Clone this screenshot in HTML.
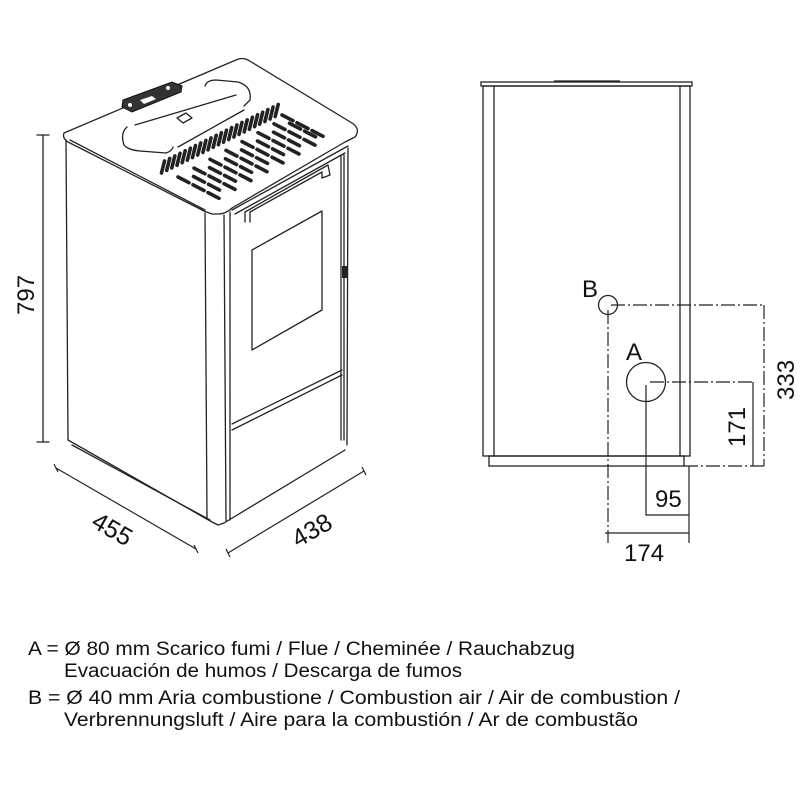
<!DOCTYPE html>
<html><head><meta charset="utf-8"><style>
html,body{margin:0;padding:0;background:#fff;}
svg{display:block;}
text{font-family:"Liberation Sans Narrow","Liberation Sans",sans-serif;fill:#111;}
</style></head><body>
<svg width="800" height="800" viewBox="0 0 800 800" xmlns="http://www.w3.org/2000/svg">
<g fill="none" stroke="#222" stroke-width="1.3" stroke-linejoin="round" stroke-linecap="round">
<line x1="43" y1="135" x2="43" y2="442"/>
<line x1="37" y1="135" x2="49" y2="135"/>
<line x1="37" y1="442" x2="49" y2="442"/>
<path d="M64 133 L236 60 Q242 57 248 60 L352 123 Q361 129 355 137 L345 142 L232 208 Q226 214 218 214 L212 214 L204 211 L68 142 Q62 138 64 133 Z"/>
<line x1="70" y1="140" x2="205" y2="210"/>
<line x1="66" y1="140" x2="68" y2="440"/>
<path d="M68 440 L212 522 L218 525 L224 523 L345 450"/>
<line x1="72" y1="445" x2="210" y2="520"/>
<line x1="205" y1="213" x2="207" y2="518"/>
<line x1="224" y1="215" x2="226" y2="521"/>
<line x1="230" y1="212" x2="230" y2="520"/>
<line x1="232" y1="210" x2="348" y2="146"/>
<line x1="235" y1="214" x2="345" y2="153"/>
<line x1="348" y1="148" x2="347" y2="445"/>
<line x1="341" y1="155" x2="341" y2="440"/>
<line x1="344" y1="155" x2="344" y2="440"/>
<path d="M245 222 L245 212 L328 165 L330 175 L322 178 L322 172 L250 212 L250 222"/>
<path d="M252 250 L322 211 L322 310 L252 350 Z"/>
<line x1="232" y1="424" x2="342" y2="370"/>
<line x1="232" y1="430" x2="342" y2="375"/>
<path d="M205 86 Q207 80 216 80 L238 82 Q252 86 250 100 L244 106"/>
<path d="M127 127 Q120 133 124 145 Q128 150 140 151 L166 153 Q172 151 173 147"/>
<line x1="135" y1="125" x2="236" y2="95"/>
<line x1="178" y1="147" x2="244" y2="110"/>
<polygon points="177,118 186,113 192,118 183,123"/>
</g>
<polygon points="123,100 172,82 182,86 181,92 132,112 122,107" fill="#333" stroke="#111" stroke-width="1"/>
<polygon points="140,100 152,96 156,99 144,104" fill="#fff"/>
<circle cx="130" cy="105" r="2" fill="#fff"/>
<circle cx="168" cy="88" r="2" fill="#fff"/>
<rect x="342" y="266" width="5" height="12" fill="#222"/>
<g fill="none" stroke-linecap="round">
<path stroke="#222" stroke-width="3.6" d="M161.5 173 l3 -12 M166.7 170.4 l3 -12 M171.8 167.9 l3 -12 M177 165.3 l3 -12 M182.2 162.7 l3 -12 M187.4 160.2 l3 -12 M192.5 157.6 l3 -12 M197.7 155 l3 -12 M202.9 152.4 l3 -12 M208 149.9 l3 -12 M213.2 147.3 l3 -12 M218.4 144.7 l3 -12 M223.5 142.2 l3 -12 M228.7 139.6 l3 -12 M233.9 137 l3 -12 M239 134.4 l3 -12 M244.2 131.9 l3 -12 M249.4 129.3 l3 -12 M254.6 126.7 l3 -12 M259.7 124.2 l3 -12 M264.9 121.6 l3 -12 M270.1 119 l3 -12 M275.2 116.5 l3 -12"/>
<path stroke="#222" stroke-width="3.6" d="M178 177 l11 5.7 M193 184.8 l11 5.7 M208 192.6 l11 5.7 M193.5 176.5 l11 5.7 M208.5 184.3 l11 5.7 M194 168.1 l11 5.7 M209 175.9 l11 5.7 M224 183.7 l11 5.7 M209.5 167.6 l11 5.7 M224.5 175.4 l11 5.7 M210 159.3 l11 5.7 M225 167.1 l11 5.7 M240 174.9 l11 5.7 M225.5 158.8 l11 5.7 M240.5 166.6 l11 5.7 M226 150.4 l11 5.7 M241 158.2 l11 5.7 M256 166 l11 5.7 M241.5 149.9 l11 5.7 M256.5 157.7 l11 5.7 M242 141.6 l11 5.7 M257 149.4 l11 5.7 M272 157.2 l11 5.7 M257.5 141 l11 5.7 M272.5 148.8 l11 5.7 M258 132.7 l11 5.7 M273 140.5 l11 5.7 M288 148.3 l11 5.7 M273.5 132.2 l11 5.7 M288.5 140 l11 5.7 M274 123.8 l11 5.7 M289 131.6 l11 5.7 M304 139.4 l11 5.7 M289.5 123.3 l11 5.7 M304.5 131.1 l11 5.7 M282 115 l11 5.7 M297 122.8 l11 5.7 M312 130.6 l11 5.7"/>
</g>
<g stroke="#222" stroke-width="1.2">
<line x1="56" y1="468" x2="196" y2="549"/>
<line x1="54" y1="464" x2="58" y2="472"/>
<line x1="194" y1="545" x2="198" y2="553"/>
<line x1="228" y1="553" x2="364" y2="471"/>
<line x1="226" y1="549" x2="230" y2="557"/>
<line x1="362" y1="467" x2="366" y2="475"/>
</g>
<text font-size="25" font-family="Liberation Sans" transform="translate(90,526) rotate(30)">455</text>
<text font-size="25" font-family="Liberation Sans" transform="translate(298,548) rotate(-30)">438</text>
<text font-size="24" font-family="Liberation Sans" transform="translate(34,315) rotate(-90)">797</text>

<g fill="none" stroke="#222" stroke-width="1.3">
<rect x="481" y="82" width="211" height="4"/>
<line x1="554" y1="81" x2="620" y2="81"/>
<rect x="483" y="86" width="207" height="370"/>
<line x1="494" y1="86" x2="494" y2="456"/>
<line x1="680" y1="86" x2="680" y2="456"/>
<rect x="489" y="456" width="195" height="10"/>
<circle cx="608" cy="305" r="9.5"/>
<circle cx="646" cy="382" r="19.5"/>
</g>
<g fill="none" stroke="#222" stroke-width="1.2">
<path stroke-dasharray="14 3 2 3" d="M611 305 L764 305 M764 305 L764 466 M684 466 L764 466 M608 310 L608 543 M650 382 L753 382"/>
<line x1="753" y1="382" x2="753" y2="466"/>
<path d="M646 385 L646 515 L689 515 M689 466 L689 543 M605 533 L689 533"/>
</g>
<g font-family="Liberation Sans" font-size="24">
<text x="582" y="297">B</text>
<text x="626" y="360">A</text>
<text x="655" y="507">95</text>
<text x="624" y="561">174</text>
<text transform="translate(794,400) rotate(-90)">333</text>
<text transform="translate(745,447) rotate(-90)">171</text>
</g>

<g font-size="19">
<text x="28" y="655" textLength="547" lengthAdjust="spacingAndGlyphs">A = Ø 80 mm  Scarico fumi / Flue / Cheminée / Rauchabzug</text>
<text x="64" y="677" textLength="398" lengthAdjust="spacingAndGlyphs">Evacuación de humos / Descarga de fumos</text>
<text x="28" y="704" textLength="652" lengthAdjust="spacingAndGlyphs">B = Ø 40 mm  Aria combustione / Combustion air / Air de combustion /</text>
<text x="64" y="726" textLength="574" lengthAdjust="spacingAndGlyphs">Verbrennungsluft / Aire para la combustión / Ar de combustão</text>
</g>
</svg>
</body></html>
